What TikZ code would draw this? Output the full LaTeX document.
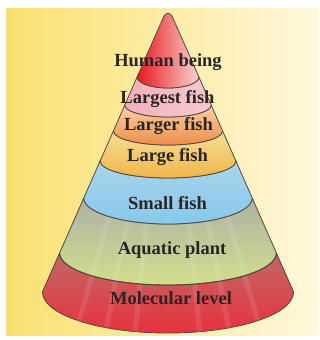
\documentclass[tikz,border=0pt]{standalone}
\usepackage{fontspec}
\setmainfont{Liberation Serif}
\definecolor{bgL}{RGB}{250,224,112}
\definecolor{bgR}{RGB}{255,248,220}
\definecolor{lineC}{RGB}{85,70,60}
\definecolor{txtC}{RGB}{42,36,36}
\definecolor{tipL}{RGB}{230,26,30}
\definecolor{tipM}{RGB}{236,52,55}
\definecolor{tipR}{RGB}{250,210,210}
\definecolor{pinkL}{RGB}{240,176,186}
\definecolor{pinkM}{RGB}{252,230,232}
\definecolor{pinkR}{RGB}{246,202,208}
\definecolor{orT}{RGB}{250,208,168}
\definecolor{orB}{RGB}{238,142,72}
\definecolor{yeT}{RGB}{248,222,152}
\definecolor{yeB}{RGB}{238,182,72}
\definecolor{blT}{RGB}{170,212,235}
\definecolor{blB}{RGB}{135,200,235}
\definecolor{grT}{RGB}{172,178,165}
\definecolor{grB}{RGB}{212,222,140}
\definecolor{rdT}{RGB}{192,104,104}
\definecolor{rdB}{RGB}{232,50,60}
\begin{document}
\begin{tikzpicture}[x=1pt,y=1pt,
  outline/.style={draw=lineC, line width=0.8pt, line join=round},
  streak/.style={white, opacity=0.10, line width=5pt},
  lbl/.style={font=\fontsize{18.5}{21}\selectfont\bfseries, text=txtC, inner sep=0pt}]
\useasboundingbox (0,0) rectangle (320,-340);
\fill[white] (0,0) rectangle (320,-340);
\shade[left color=bgL, right color=bgR] (6,-8) rectangle (319,-335);
% bottom band: Molecular level
\shadedraw[outline, top color=rdT, bottom color=rdB]
  (59.6,-253) arc[start angle=180,end angle=360,x radius=108.4,y radius=32]
  -- (293.6,-292) arc[start angle=0,end angle=-180,x radius=125.6,y radius=41] -- cycle;
% Aquatic plant
\shadedraw[outline, top color=grT, bottom color=grB]
  (83.8,-198) arc[start angle=180,end angle=360,x radius=84.2,y radius=26]
  -- (276.4,-253) arc[start angle=0,end angle=-180,x radius=108.4,y radius=32] -- cycle;
% faint radial streaks in the lower bands
\begin{scope}
  \clip (83.8,-198) arc[start angle=180,end angle=360,x radius=84.2,y radius=26]
    -- (293.6,-292) arc[start angle=0,end angle=-180,x radius=125.6,y radius=41] -- cycle;
  \foreach \bx in {75,105,135,200,230,262}
    \draw[streak] (168,-14) -- (\bx,-335);
\end{scope}
\draw[outline] (59.6,-253) arc[start angle=180,end angle=360,x radius=108.4,y radius=32];
% Small fish
\shadedraw[outline, top color=blT, bottom color=blB]
  (100.1,-161) arc[start angle=180,end angle=360,x radius=67.9,y radius=17]
  -- (252.2,-198) arc[start angle=0,end angle=-180,x radius=84.2,y radius=26] -- cycle;
% Large fish
\shadedraw[outline, top color=yeT, bottom color=yeB]
  (113.4,-131) arc[start angle=180,end angle=360,x radius=54.6,y radius=14]
  -- (235.9,-161) arc[start angle=0,end angle=-180,x radius=67.9,y radius=17] -- cycle;
% Larger fish
\shadedraw[outline, top color=orT, bottom color=orB]
  (124.8,-105) arc[start angle=180,end angle=360,x radius=43.2,y radius=12]
  -- (222.6,-131) arc[start angle=0,end angle=-180,x radius=54.6,y radius=14] -- cycle;
% Largest fish
\shadedraw[outline, left color=pinkL, middle color=pinkM, right color=pinkR]
  (137.1,-77) arc[start angle=180,end angle=360,x radius=30.9,y radius=11]
  -- (211.2,-105) arc[start angle=0,end angle=-180,x radius=43.2,y radius=12] -- cycle;
% tip: Human being
\shadedraw[outline, left color=tipL, middle color=tipM, right color=tipR]
  (137.1,-77) -- (164,-16) .. controls (166,-12.5) and (170,-12.5) .. (172,-16)
  -- (198.9,-77) arc[start angle=0,end angle=-180,x radius=30.9,y radius=11] -- cycle;
% labels
\node[lbl] (human) at (168,-62) {Human being};
\node[lbl] (largest) at (167.5,-99) {Largest fish};
\node[lbl] (larger) at (168.5,-126) {Larger fish};
\node[lbl] (large) at (167.5,-157) {Large fish};
\node[lbl] (small) at (167.5,-203) {Small fish};
\node[lbl] (aquatic) at (172,-250) {Aquatic plant};
\node[lbl] (molecular) at (171,-298) {Molecular level};
\end{tikzpicture}
\end{document}
